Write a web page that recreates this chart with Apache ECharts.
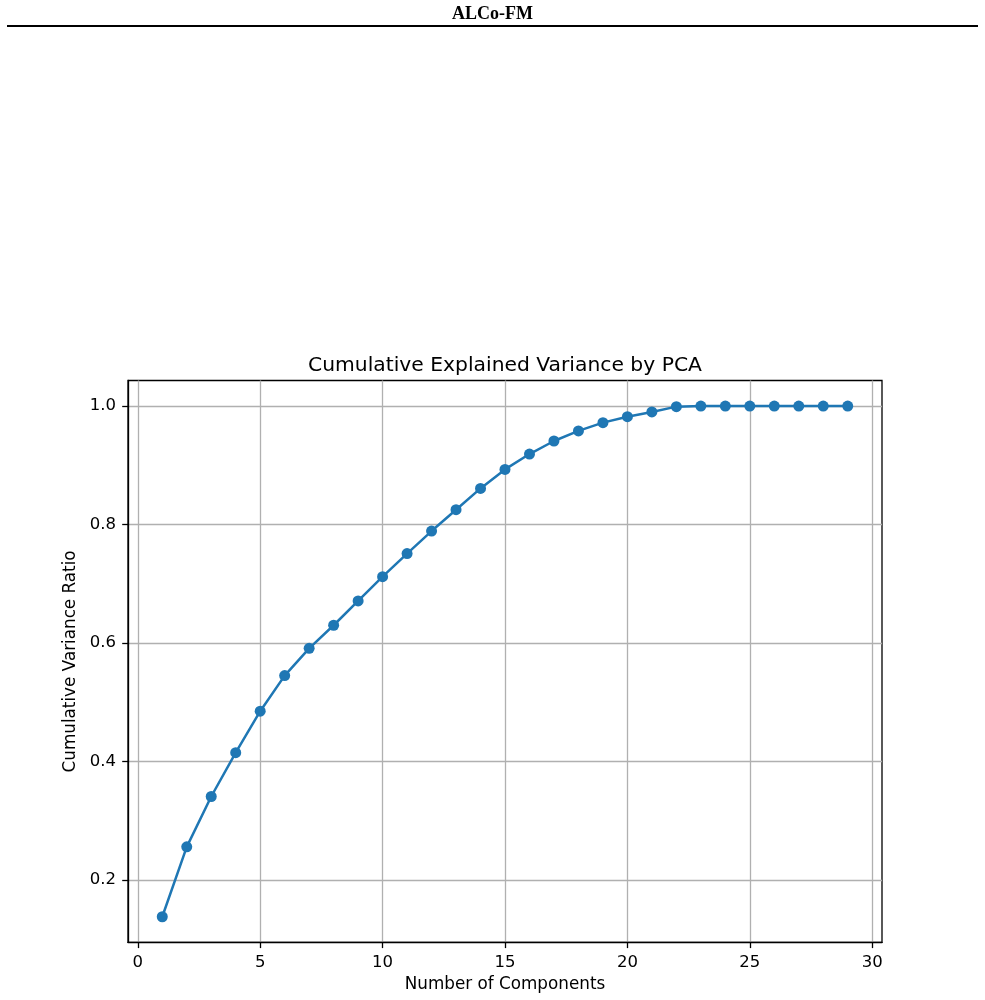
<!DOCTYPE html>
<html>
<head>
<meta charset="utf-8">
<script src="https://cdn.jsdelivr.net/npm/echarts@6/dist/echarts.min.js"></script>
<style>
html,body{margin:0;padding:0;background:#fff;}
#chart{width:985px;height:1000px;}
</style>
</head>
<body>
<div id="chart"></div>
<script>
const components = [1,2,3,4,5,6,7,8,9,10,11,12,13,14,15,16,17,18,19,20,21,22,23,24,25,26,27,28,29];
const cumulativeVariance = [0.138,0.256,0.341,0.415,0.485,0.545,0.591,0.630,0.671,0.712,0.751,0.789,0.825,0.861,0.893,0.919,0.941,0.958,0.972,0.982,0.990,0.999,1.000,1.000,1.000,1.000,1.000,1.000,1.000];
const headerText = 'ALCo-FM';
const chartTitle = 'Cumulative Explained Variance by PCA';
const xAxisName = 'Number of Components';
const yAxisName = 'Cumulative Variance Ratio';

const chart = echarts.init(document.getElementById('chart'), null, {renderer: 'canvas'});
const font = 'DejaVu Sans';
const points = components.map((c, i) => [c, cumulativeVariance[i]]);

chart.setOption({
  animation: false,
  backgroundColor: '#fff',
  title: {
    text: chartTitle,
    left: 500,
    top: 351,
    textAlign: 'center',
    textStyle: {fontFamily: font, fontSize: 20.3, fontWeight: 'normal', color: '#000'}
  },
  graphic: [
    {type: 'text', left: 'center', top: 5,
     style: {text: headerText, font: 'bold 18px "Liberation Serif"', fill: '#000'}},
    {type: 'line', shape: {x1: 7, y1: 26, x2: 978, y2: 26},
     style: {stroke: '#000', lineWidth: 2}}
  ],
  grid: {
    left: 128, right: 103, top: 380.5, bottom: 57.7,
    show: true, borderColor: '#000', borderWidth: 1.3, backgroundColor: 'transparent',
    containLabel: false, outerBoundsMode: 'none'
  },
  xAxis: {
    type: 'value',
    min: -0.4, max: 30.4,
    splitNumber: 6,
    name: xAxisName, nameLocation: 'middle', nameGap: 33,
    nameTextStyle: {fontFamily: font, fontSize: 16.8, color: '#000'},
    axisLine: {show: true, onZero: false, lineStyle: {color: '#000', width: 1.3}},
    axisTick: {show: true, length: 5.8, inside: false, lineStyle: {color: '#000', width: 1.3}},
    axisLabel: {fontFamily: font, fontSize: 16.5, color: '#000', margin: 11.5, showMinLabel: false, showMaxLabel: false},
    splitLine: {show: true, showMinLine: false, showMaxLine: false, lineStyle: {color: '#b0b0b0', width: 1.3}}
  },
  yAxis: {
    type: 'value',
    min: 0.0949, max: 1.0431,
    splitNumber: 5,
    name: yAxisName, nameLocation: 'middle', nameGap: 45,
    nameTextStyle: {fontFamily: font, fontSize: 16.8, color: '#000'},
    axisLine: {show: true, onZero: false, lineStyle: {color: '#000', width: 1.3}},
    axisTick: {show: true, length: 5.8, inside: false, lineStyle: {color: '#000', width: 1.3}},
    axisLabel: {fontFamily: font, fontSize: 16.5, color: '#000', margin: 12, showMinLabel: false, showMaxLabel: false,
      formatter: v => v.toFixed(1)},
    splitLine: {show: true, showMinLine: false, showMaxLine: false, lineStyle: {color: '#b0b0b0', width: 1.3}}
  },
  series: [{
    type: 'line',
    data: points,
    symbol: 'circle',
    symbolSize: 11,
    showAllSymbol: true,
    lineStyle: {color: '#1f77b4', width: 2.5},
    itemStyle: {color: '#1f77b4'},
    z: 3
  }]
});
</script>
</body>
</html>
